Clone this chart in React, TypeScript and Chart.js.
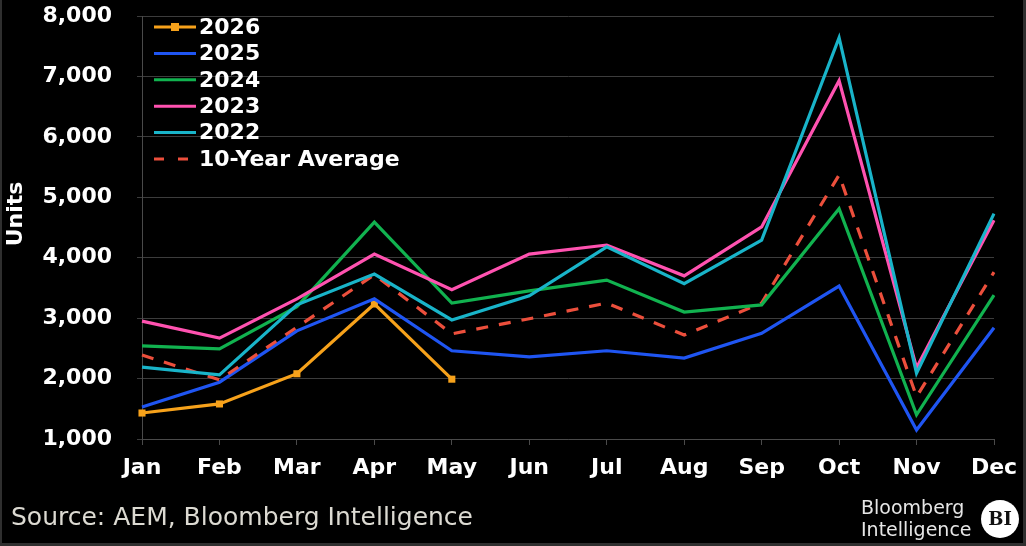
import { useEffect, useRef } from "react";
import { Chart, ChartConfiguration, Plugin, registerables } from "chart.js";

Chart.register(...registerables);

const months = ["Jan", "Feb", "Mar", "Apr", "May", "Jun", "Jul", "Aug", "Sep", "Oct", "Nov", "Dec"];

const units2026 = [1430, 1580, 2080, 3235, 1990];
const units2025 = [1530, 1940, 2790, 3320, 2460, 2360, 2460, 2340, 2750, 3530, 1150, 2840];
const units2024 = [2540, 2490, 3190, 4590, 3250, 3450, 3630, 3100, 3220, 4810, 1400, 3380];
const units2023 = [2950, 2670, 3320, 4060, 3470, 4060, 4210, 3700, 4510, 6930, 2180, 4620];
const units2022 = [2190, 2060, 3220, 3730, 2970, 3370, 4180, 3570, 4290, 7640, 2090, 4730];
const tenYearAvg = [2390, 1980, 2850, 3720, 2740, 2990, 3250, 2720, 3250, 5370, 1700, 3760];

const yTicks = [1000, 2000, 3000, 4000, 5000, 6000, 7000, 8000];

const sourceText = "Source: AEM, Bloomberg Intelligence";

const FONT = "'DejaVu Sans', Verdana, sans-serif";

const ORANGE = "#f7a21b";
const BLUE = "#1f55f2";
const GREEN = "#11b24f";
const PINK = "#ff52b0";
const TEAL = "#19b4c9";
const RED = "#ec4f3c";

type LegendRow = { label: string; color: string; dash?: number[]; marker?: boolean };

const legendRows: LegendRow[] = [
  { label: "2026", color: ORANGE, marker: true },
  { label: "2025", color: BLUE },
  { label: "2024", color: GREEN },
  { label: "2023", color: PINK },
  { label: "2022", color: TEAL },
  { label: "10-Year Average", color: RED, dash: [10, 14] },
];

const extras: Plugin<"line"> = {
  id: "extras",
  beforeDraw(chart) {
    const { ctx, width, height } = chart;
    ctx.save();
    ctx.fillStyle = "#000";
    ctx.fillRect(0, 0, width, height);
    ctx.restore();
  },
  afterDraw(chart) {
    const { ctx, width, height, chartArea } = chart;
    ctx.save();

    // legend inside the plot, top-left
    const lx = chartArea.left + 12;
    let ly = chartArea.top + 11;
    ctx.font = `bold 22px ${FONT}`;
    ctx.textBaseline = "middle";
    ctx.textAlign = "left";
    legendRows.forEach((row) => {
      ctx.strokeStyle = row.color;
      ctx.lineWidth = 3;
      ctx.setLineDash(row.dash ?? []);
      ctx.beginPath();
      ctx.moveTo(lx, ly);
      ctx.lineTo(lx + 42, ly);
      ctx.stroke();
      ctx.setLineDash([]);
      if (row.marker) {
        ctx.fillStyle = row.color;
        ctx.fillRect(lx + 17, ly - 4, 8, 8);
      }
      ctx.fillStyle = "#ffffff";
      ctx.fillText(row.label, lx + 45, ly + 1);
      ly += 26.4;
    });

    // y axis title
    ctx.save();
    ctx.translate(16, 214);
    ctx.rotate(-Math.PI / 2);
    ctx.font = `bold 22px ${FONT}`;
    ctx.textAlign = "center";
    ctx.fillStyle = "#ffffff";
    ctx.fillText("Units", 0, 0);
    ctx.restore();

    // source
    ctx.font = `25px ${FONT}`;
    ctx.fillStyle = "#dcdad2";
    ctx.textAlign = "left";
    ctx.fillText(sourceText, 11, 518);

    // Bloomberg Intelligence logo
    ctx.font = `19px ${FONT}`;
    ctx.fillStyle = "#e6e6e6";
    ctx.fillText("Bloomberg", 861, 509);
    ctx.fillText("Intelligence", 861, 531);
    ctx.beginPath();
    ctx.arc(1000, 519, 19, 0, Math.PI * 2);
    ctx.fillStyle = "#ffffff";
    ctx.fill();
    ctx.fillStyle = "#111";
    ctx.font = `bold 18px 'DejaVu Serif', serif`;
    ctx.textAlign = "center";
    ctx.fillText("BI", 1000, 520);

    // frame
    ctx.fillStyle = "#2f2f2f";
    ctx.fillRect(0, 0, 2, height);
    ctx.fillRect(width - 3, 0, 3, height);
    ctx.fillRect(0, height - 3, width, 3);

    ctx.restore();
  },
};

export default function App() {
  const canvasRef = useRef<HTMLCanvasElement | null>(null);
  const chartRef = useRef<Chart<"line", number[], string> | null>(null);

  useEffect(() => {
    document.body.style.margin = "0";
    document.body.style.background = "#000";
    const canvas = canvasRef.current;
    if (!canvas) return;
    const ctx = canvas.getContext("2d");
    if (!ctx) return;

    if (chartRef.current) chartRef.current.destroy();

    const line = (data: number[], color: string) => ({
      data,
      borderColor: color,
      backgroundColor: color,
      borderWidth: 3.2,
      pointRadius: 0,
      tension: 0,
      fill: false,
    });

    const config: ChartConfiguration<"line", number[], string> = {
      type: "line",
      data: {
        labels: months,
        datasets: [
          { label: "2022", ...line(units2022, TEAL) },
          { label: "2023", ...line(units2023, PINK) },
          { label: "2024", ...line(units2024, GREEN) },
          { label: "10-Year Average", ...line(tenYearAvg, RED), borderDash: [12, 11] },
          { label: "2025", ...line(units2025, BLUE) },
          {
            label: "2026",
            ...line(units2026, ORANGE),
            pointRadius: 5,
            pointStyle: "rect",
            pointBorderWidth: 0,
          },
        ],
      },
      options: {
        responsive: false,
        animation: false,
        layout: { padding: { top: 16, right: 32, bottom: 67, left: 0 } },
        plugins: {
          legend: { display: false },
          tooltip: { enabled: false },
        },
        scales: {
          x: {
            offset: false,
            grid: {
              drawOnChartArea: false,
              drawTicks: true,
              tickLength: 6,
              color: "#4a4a4a",
            },
            border: { color: "#4a4a4a", width: 1 },
            ticks: {
              color: "#ffffff",
              font: { family: FONT, size: 22, weight: "bold" },
              padding: 10,
              maxRotation: 0,
              autoSkip: false,
            },
            afterFit: (scale) => {
              scale.height = 40;
              scale.paddingLeft = 0;
              scale.paddingRight = 0;
            },
          },
          y: {
            min: 1000,
            max: 8000,
            afterBuildTicks: (scale) => {
              scale.ticks = yTicks.map((v) => ({ value: v }));
            },
            grid: {
              color: "#3c3c3c",
              tickLength: 5,
              lineWidth: 1,
            },
            border: { color: "#4a4a4a", width: 1 },
            ticks: {
              color: "#ffffff",
              font: { family: FONT, size: 22, weight: "bold" },
              padding: 25,
              callback: (v) => Number(v).toLocaleString("en-US"),
            },
            afterFit: (scale) => {
              scale.width = 142;
              scale.paddingTop = 0;
              scale.paddingBottom = 0;
            },
          },
        },
      },
      plugins: [extras],
    };

    chartRef.current = new Chart(ctx, config);

    return () => {
      if (chartRef.current) {
        chartRef.current.destroy();
        chartRef.current = null;
      }
    };
  }, []);

  return (
    <div style={{ width: 1026, height: 546, background: "#000" }}>
      <canvas ref={canvasRef} width={1026} height={546} style={{ display: "block" }} />
    </div>
  );
}
